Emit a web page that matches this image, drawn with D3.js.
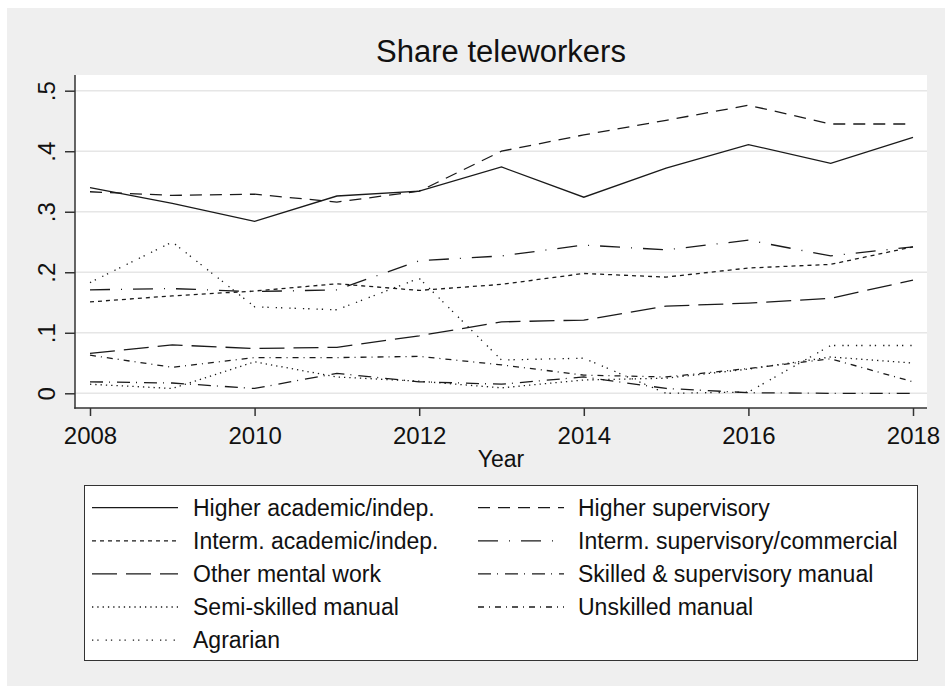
<!DOCTYPE html>
<html>
<head>
<meta charset="utf-8">
<script src="https://cdn.jsdelivr.net/npm/d3@7"></script>
<style>
  html, body { margin: 0; padding: 0; background: #ffffff; }
  svg { display: block; }
  text { font-family: "Liberation Sans", Arial, Helvetica, sans-serif; fill: #111; }
</style>
</head>
<body>
<svg id="chart" width="952" height="691"></svg>
<script>
// ---------- data ----------
const years = [2008, 2009, 2010, 2011, 2012, 2013, 2014, 2015, 2016, 2017, 2018];
const xTicks = [2008, 2010, 2012, 2014, 2016, 2018];
const yTicks = [0, 0.1, 0.2, 0.3, 0.4, 0.5];
const yTickLabels = ["0", ".1", ".2", ".3", ".4", ".5"];

const seriesNames = [
  "Higher academic/indep.",
  "Higher supervisory",
  "Interm. academic/indep.",
  "Interm. supervisory/commercial",
  "Other mental work",
  "Skilled & supervisory manual",
  "Semi-skilled manual",
  "Unskilled manual",
  "Agrarian"
];

const higherAcademic    = [0.340, 0.314, 0.284, 0.326, 0.334, 0.374, 0.324, 0.372, 0.411, 0.380, 0.423];
const higherSupervisory = [0.333, 0.327, 0.329, 0.316, 0.334, 0.400, 0.427, 0.451, 0.476, 0.445, 0.445];
const intermAcademic    = [0.151, 0.161, 0.169, 0.181, 0.170, 0.180, 0.198, 0.192, 0.207, 0.213, 0.242];
const intermSupervisory = [0.171, 0.173, 0.168, 0.171, 0.219, 0.227, 0.245, 0.237, 0.253, 0.227, 0.242];
const otherMental       = [0.066, 0.080, 0.074, 0.076, 0.095, 0.118, 0.121, 0.144, 0.149, 0.157, 0.187];
const skilledManual     = [0.019, 0.017, 0.008, 0.033, 0.019, 0.015, 0.027, 0.008, 0.001, 0.000, 0.000];
const semiSkilled       = [0.015, 0.008, 0.052, 0.027, 0.020, 0.009, 0.022, 0.025, 0.040, 0.060, 0.050];
const unskilled         = [0.063, 0.043, 0.059, 0.059, 0.061, 0.047, 0.030, 0.027, 0.041, 0.057, 0.019];
const agrarian          = [0.183, 0.250, 0.143, 0.138, 0.190, 0.055, 0.058, 0.000, 0.002, 0.079, 0.079];

const seriesValues = [higherAcademic, higherSupervisory, intermAcademic, intermSupervisory,
                      otherMental, skilledManual, semiSkilled, unskilled, agrarian];

// line patterns (styles)
const dashes = ["none", "12,8", "4,4", "20,11,1,11", "25,9", "13,6,1,7", "1.3,4", "6,5,1,5", "1.3,4,1.3,7"];

// ---------- layout ----------
const W = 952, H = 691;
const plot = { left: 75, right: 927, top: 75, bottom: 408 };

const svg = d3.select("#chart");

// outer gray background
svg.append("rect").attr("x", 7).attr("y", 8).attr("width", 938).attr("height", 678)
  .attr("fill", "#efefef");

// plot area
svg.append("rect").attr("x", plot.left).attr("y", plot.top)
  .attr("width", plot.right - plot.left).attr("height", plot.bottom - plot.top)
  .attr("fill", "#ffffff");

const x = d3.scaleLinear().domain([2008, 2018]).range([90, 913]);
const y = d3.scaleLinear().domain([0, 0.5]).range([393.3, 90.7]);

// grid
svg.append("g").selectAll("line").data(yTicks).join("line")
  .attr("x1", plot.left).attr("x2", plot.right)
  .attr("y1", d => y(d)).attr("y2", d => y(d))
  .attr("stroke", "#e6e6e6").attr("stroke-width", 1.6);

// title
svg.append("text").attr("x", (plot.left + plot.right) / 2).attr("y", 62)
  .attr("text-anchor", "middle").attr("font-size", 31).text("Share teleworkers");

// series lines
const line = d3.line().x((d, i) => x(years[i])).y(d => y(d));
const gLines = svg.append("g");
seriesValues.forEach((vals, k) => {
  gLines.append("path").datum(vals)
    .attr("d", line)
    .attr("fill", "none")
    .attr("stroke", "#1a1a1a")
    .attr("stroke-width", 1.3)
    .attr("stroke-dasharray", dashes[k]);
});

// axes
const yAxis = d3.axisLeft(y).tickValues(yTicks).tickSize(10)
  .tickFormat((d, i) => yTickLabels[i]);
const gy = svg.append("g").attr("transform", `translate(${plot.left},0)`).call(yAxis);
gy.select(".domain").remove();
gy.selectAll(".tick line").attr("stroke", "#333").attr("stroke-width", 1.5);
gy.selectAll(".tick text")
  .attr("x", null).attr("dy", null).attr("y", 0)
  .attr("transform", "translate(-20,0) rotate(-90)")
  .attr("text-anchor", "middle")
  .attr("font-size", 24)
  .attr("font-family", "Liberation Sans, Arial, sans-serif")
  .attr("fill", "#111");

const xAxis = d3.axisBottom(x).tickValues(xTicks).tickSize(8).tickFormat(d3.format("d"));
const gx = svg.append("g").attr("transform", `translate(0,${plot.bottom})`).call(xAxis);
gx.select(".domain").remove();
gx.selectAll(".tick line").attr("stroke", "#333").attr("stroke-width", 1.5);
gx.selectAll(".tick text")
  .attr("y", 36).attr("dy", 0)
  .attr("font-size", 24)
  .attr("font-family", "Liberation Sans, Arial, sans-serif")
  .attr("fill", "#111");

// axis lines
svg.append("line").attr("x1", plot.left).attr("x2", plot.left)
  .attr("y1", plot.top).attr("y2", plot.bottom + 0.75)
  .attr("stroke", "#333").attr("stroke-width", 1.5);
svg.append("line").attr("x1", plot.left - 0.75).attr("x2", plot.right)
  .attr("y1", plot.bottom).attr("y2", plot.bottom)
  .attr("stroke", "#333").attr("stroke-width", 1.5);

// x title
svg.append("text").attr("x", (plot.left + plot.right) / 2).attr("y", 467)
  .attr("text-anchor", "middle").attr("font-size", 23).text("Year");

// legend
const lg = { x: 84, y: 485, w: 833, h: 175 };
svg.append("rect").attr("x", lg.x + 0.5).attr("y", lg.y + 0.5)
  .attr("width", lg.w).attr("height", lg.h)
  .attr("fill", "#ffffff").attr("stroke", "#333").attr("stroke-width", 1);

const colSample = [92, 478];
const colText = [193, 578];
const rowBase = 515.7, rowStep = 33.1;
const gLeg = svg.append("g");
seriesNames.forEach((name, k) => {
  const c = k % 2, r = Math.floor(k / 2);
  const base = rowBase + r * rowStep;
  gLeg.append("line")
    .attr("x1", colSample[c]).attr("x2", colSample[c] + 86)
    .attr("y1", base - 8).attr("y2", base - 8)
    .attr("stroke", "#1a1a1a").attr("stroke-width", 1.3)
    .attr("stroke-dasharray", dashes[k]);
  gLeg.append("text").attr("x", colText[c]).attr("y", base)
    .attr("font-size", 23).text(name);
});
</script>
</body>
</html>
